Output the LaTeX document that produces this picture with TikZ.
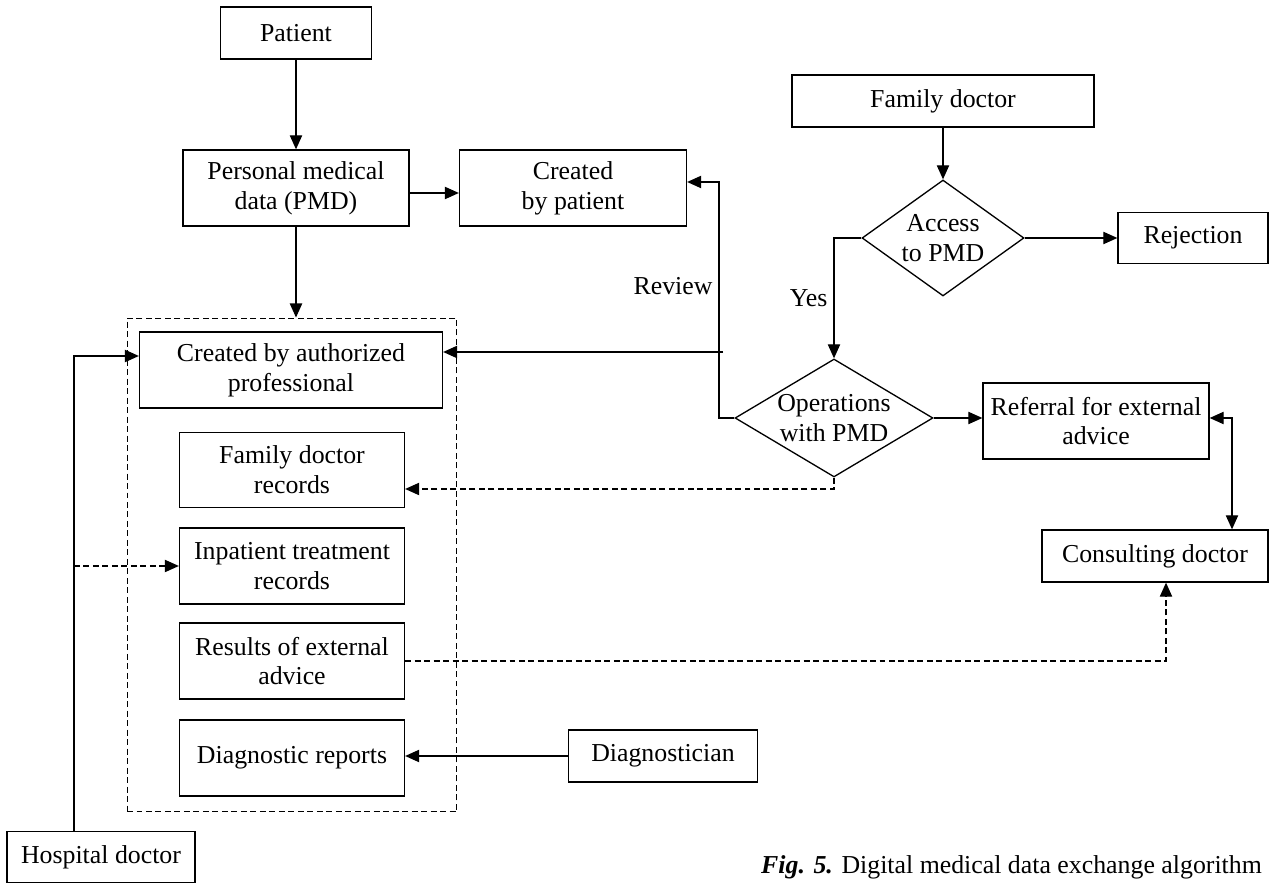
\documentclass[tikz,border=0pt]{standalone}
\usepackage{fontspec}
\setmainfont{Liberation Serif}
\usepackage{tikz}
\usetikzlibrary{arrows.meta, shapes.geometric, calc}

\begin{document}
\begin{tikzpicture}[x=0.02cm, y=-0.02cm,
  font=\fontsize{14.7}{17}\selectfont,
  >={Triangle[length=8pt, width=7pt]},
  box/.style={draw, line width=0.75pt, align=center, inner sep=2pt},
  choice/.style={draw, diamond, line width=0.75pt, align=center, inner sep=0pt},
  group/.style={draw, dash pattern=on 3.4pt off 2pt, line width=0.6pt},
  flow/.style={->, line width=0.75pt},
  hint/.style={->, line width=0.7pt, dash pattern=on 3.4pt off 2pt}]
\useasboundingbox (0,0) rectangle (1272,884);

% left column
\node[box, minimum width=3.02cm, minimum height=1.04cm] (patient) at (296,33) {Patient};
\node[box, minimum width=4.52cm, minimum height=1.52cm] (pmd) at (296,188) {Personal medical\\data (PMD)};
\node[box, minimum width=4.54cm, minimum height=1.52cm] (bypatient) at (573,188) {Created\\by patient};
\node[group, minimum width=6.6cm, minimum height=9.88cm] (store) at (292,565) {};
\node[box, minimum width=6.06cm, minimum height=1.52cm] (auth) at (291,370) {Created by authorized\\professional};
\node[box, minimum width=4.5cm, minimum height=1.5cm] (fdrec) at (292,470) {Family doctor\\records};
\node[box, minimum width=4.5cm, minimum height=1.52cm] (inpat) at (292,566) {Inpatient treatment\\records};
\node[box, minimum width=4.5cm, minimum height=1.52cm] (results) at (292,661) {Results of external\\advice};
\node[box, minimum width=4.5cm, minimum height=1.52cm] (diagrep) at (292,758) {Diagnostic reports};
\node[box, minimum width=3.76cm, minimum height=1.02cm] (hospdoc) at (101,857) {Hospital doctor};
\node[box, minimum width=3.78cm, minimum height=1.04cm] (diagn) at (663,756) {Diagnostician};

% right part
\node[box, minimum width=6.04cm, minimum height=1.04cm] (famdoc) at (943,101) {Family doctor};
\node[choice, minimum width=3.24cm, minimum height=2.32cm, shape aspect=1.4] (access) at (943,238) {Access\\to PMD};
\node[box, minimum width=3.0cm, minimum height=1.02cm] (reject) at (1193,238) {Rejection};
\node[choice, minimum width=3.96cm, minimum height=2.36cm, shape aspect=1.68] (ops) at (834,418) {Operations\\with PMD};
\node[box, minimum width=4.52cm, minimum height=1.52cm] (referral) at (1096,421) {Referral for external\\advice};
\node[box, minimum width=4.52cm, minimum height=1.04cm] (consult) at (1155,556) {Consulting doctor};

\coordinate (hdtap) at (74,356);
\coordinate (rvtop) at (719,182);
\coordinate (authtap) at (723,352);

\draw[flow] (patient) -- (pmd);
\draw[flow] ($(pmd.east)+(0,5)$) -- ($(bypatient.west)+(0,5)$);
\draw[flow] (pmd.south) -- (pmd.south |- store.north);
\draw[flow] (hdtap |- hospdoc.north) |- (auth.west |- hdtap);
\draw[hint] (hdtap |- inpat.west) -- (inpat.west);
\draw[flow] (famdoc) -- (access);
\draw[flow] (access) -- (reject);
\draw[flow] (access.west) -| (ops.north) node[pos=0.75, left] {Yes};
\draw[flow] (ops.west) -| (rvtop) node[pos=0.78, left] {Review} -- (bypatient.east |- rvtop);
\draw[flow] (authtap) -- (auth.east |- authtap);
\draw[hint] (ops.south) |- ($(fdrec.east)+(0,19)$);
\draw[flow] (ops.east) -- (referral.west |- ops.east);
\draw[<->, line width=0.75pt] (referral.east |- ops.east) -| ($(consult.north)+(77,0)$);
\draw[hint] (results.east) -| ($(consult.south)+(11,0)$);
\draw[flow] (diagn.west) -- (diagrep.east |- diagn.west);

\node[anchor=base east] (caption) at (1268,874) {\textbf{\textit{Fig. 5.}} Digital medical data exchange algorithm};
\end{tikzpicture}
\end{document}
